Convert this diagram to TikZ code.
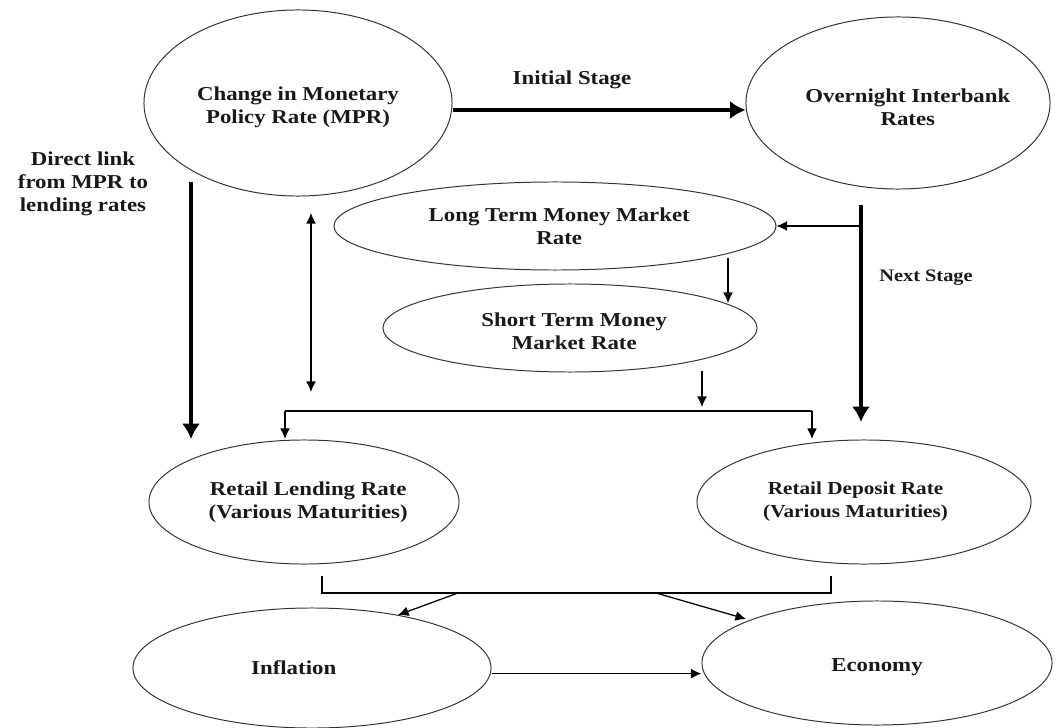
\documentclass[tikz,border=0pt]{standalone}
\usepackage{fontspec}
\setmainfont{Liberation Serif}[FakeStretch=1.16]
\usetikzlibrary{shapes.geometric,arrows.meta}
\tikzset{
    oval/.style={draw=black!80,line width=0.7pt,ellipse,inner sep=0pt},
    txt/.style={font=\fontsize{14}{16.3}\selectfont\bfseries,align=center,text=black!90},
    thinarrow/.style={line width=0.9pt,-{Latex[length=7.5pt,width=7pt]}},
    dblarrow/.style={line width=0.9pt,{Latex[length=7.5pt,width=7pt]}-{Latex[length=7.5pt,width=7pt]}},
    thickarrow/.style={line width=3.5pt,-{Latex[length=11pt,width=13pt]}},
}
\begin{document}
\begin{tikzpicture}[x=0.025cm,y=-0.025cm]
                \useasboundingbox (0,0) rectangle (1058,728);
                % the rates
                \node[oval,minimum width=7.7cm,minimum height=4.65cm,
                    label={[txt,yshift=-3pt]center:{Change in Monetary\\Policy Rate (MPR)}}] (mpr) at (298,103) {};
                \node[oval,minimum width=7.6cm,minimum height=4.3cm,
                    label={[txt,xshift=7pt,yshift=-3pt]center:{Overnight Interbank\\Rates}}] (onight) at (898,103) {};
                \node[oval,minimum width=11.05cm,minimum height=2.2cm,
                    label={[txt,xshift=3pt]center:{Long Term Money Market\\Rate}}] (ltm) at (555,226) {};
                \node[oval,minimum width=9.35cm,minimum height=2.2cm,
                    label={[txt,xshift=3pt,yshift=-2pt]center:{Short Term Money\\Market Rate}}] (stm) at (570,328) {};
                \node[oval,minimum width=7.75cm,minimum height=3.1cm,
                    label={[txt,xshift=3pt]center:{Retail Lending Rate\\(Various Maturities)}}] (lend) at (304,502) {};
                \node[oval,minimum width=8.35cm,minimum height=3.1cm,
                    label={[txt,font=\fontsize{13}{16.3}\selectfont\bfseries,xshift=-6pt]center:{Retail Deposit Rate\\(Various Maturities)}}] (dep) at (864,502) {};
                \node[oval,minimum width=8.95cm,minimum height=3cm,
                    label={[txt,xshift=-13pt]center:Inflation}] (infl) at (312,668) {};
                \node[oval,minimum width=8.75cm,minimum height=3.1cm,
                    label={[txt,yshift=-3pt]center:Economy}] (econ) at (877,663) {};
                % stage labels
                \node[txt] (initlbl) at (572,80) {Initial Stage};
                \node[txt,font=\fontsize{12.5}{15}\selectfont\bfseries] (nextlbl) at (926,278) {Next Stage};
                \node[txt] (directlbl) at (83,184) {Direct link\\from MPR to\\lending rates};
                % free ends
                \coordinate (dl1) at (191,182);
                \coordinate (dl2) at (191,439);
                \coordinate (db1) at (311,213);
                \coordinate (db2) at (311,392);
                \coordinate (ns1) at (861,205);
                \coordinate (ns2) at (861,422);
                \coordinate (lt1) at (728,258);
                \coordinate (lt2) at (728,303);
                \coordinate (st1) at (702,371);
                \coordinate (st2) at (702,407);
                \coordinate (brl) at (285,411);
                \coordinate (brr) at (812,411);
                \coordinate (bl) at (322,576);
                \coordinate (br) at (831,576);
                \coordinate (fi1) at (458,593);
                \coordinate (fi2) at (398,615);
                \coordinate (fe1) at (656,593);
                \coordinate (fe2) at (746,619);
                % thick links
                \draw[thickarrow] ([yshift=-5pt]mpr.east) -- ([yshift=-5pt]mpr.east -| onight.west);
                \draw[thickarrow] (dl1) -- (dl2);
                \draw[thickarrow] (ns1) -- (ns2);
                % thin links
                \draw[dblarrow] (db1) -- (db2);
                \draw[thinarrow] (ltm.east -| ns1) -- (ltm.east);
                \draw[thinarrow] (lt1) -- (lt2);
                \draw[thinarrow] (st1) -- (st2);
                \draw[line width=0.9pt] (brl) -- (brr);
                \foreach \c in {brl,brr}{
                    \draw[thinarrow] (\c) -- ++(0,28);
                }
                \draw[line width=0.9pt] (bl) -- ++(0,17) -| (br);
                \draw[thinarrow] (fi1) -- (fi2);
                \draw[thinarrow] (fe1) -- (fe2);
                \draw[thinarrow] ([yshift=-4pt]infl.east) -- ([yshift=-4pt]infl.east -| econ.west);
            \end{tikzpicture}
\end{document}
